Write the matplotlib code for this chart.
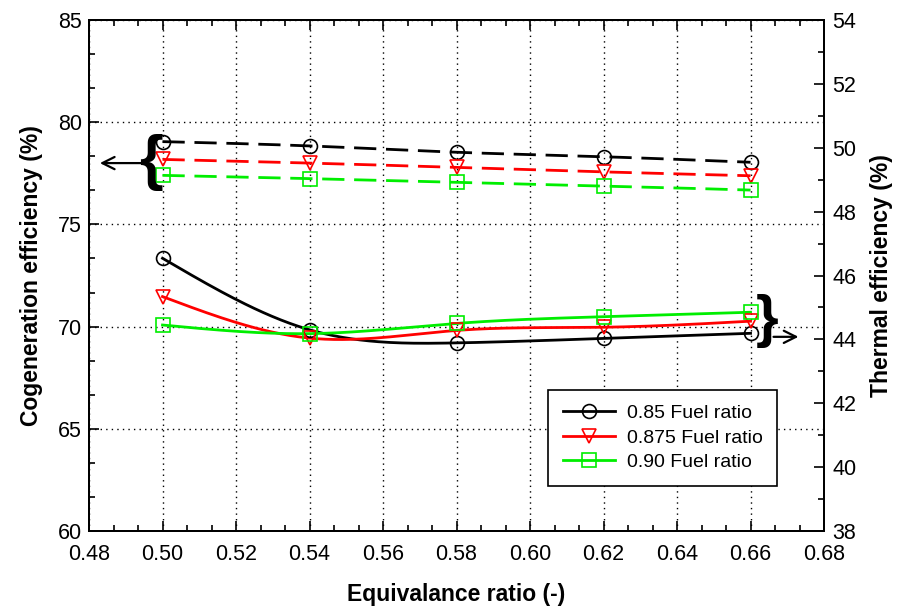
import numpy as np
import matplotlib
matplotlib.use("Agg")
import matplotlib.pyplot as plt
from matplotlib.ticker import MultipleLocator, FormatStrFormatter
from matplotlib.lines import Line2D

plt.rcParams['font.family'] = ['Liberation Sans', 'DejaVu Sans']

# Equivalence ratio values
phi = [0.50, 0.54, 0.58, 0.62, 0.66]

# Cogeneration efficiency (%) - left axis
cogen_085 = [79.05, 78.84, 78.53, 78.31, 78.04]
cogen_0875 = [78.18, 78.00, 77.79, 77.57, 77.38]
cogen_090 = [77.40, 77.24, 77.06, 76.88, 76.68]

# Thermal efficiency (%) - right axis
thermal_085 = [46.54, 44.30, 43.89, 44.03, 44.19]
thermal_0875 = [45.34, 44.04, 44.28, 44.38, 44.57]
thermal_090 = [44.45, 44.18, 44.50, 44.71, 44.85]

labels = ['0.85 Fuel ratio', '0.875 Fuel ratio', '0.90 Fuel ratio']
colors = ['black', '#ff0000', '#00ee00']
markers = ['o', 'v', 's']


def natural_spline(x, y, n=200):
    """Natural cubic spline through (x, y) sampled on n points."""
    x = np.asarray(x, float)
    y = np.asarray(y, float)
    m = len(x)
    h = np.diff(x)
    A = np.zeros((m, m))
    b = np.zeros(m)
    A[0, 0] = A[-1, -1] = 1.0
    for i in range(1, m - 1):
        A[i, i - 1] = h[i - 1]
        A[i, i] = 2 * (h[i - 1] + h[i])
        A[i, i + 1] = h[i]
        b[i] = 6 * ((y[i + 1] - y[i]) / h[i] - (y[i] - y[i - 1]) / h[i - 1])
    M = np.linalg.solve(A, b)
    xs = np.linspace(x[0], x[-1], n)
    idx = np.clip(np.searchsorted(x, xs) - 1, 0, m - 2)
    x0, x1 = x[idx], x[idx + 1]
    hh = x1 - x0
    a = (x1 - xs) / hh
    c = (xs - x0) / hh
    ys = (a * y[idx] + c * y[idx + 1]
          + ((a ** 3 - a) * M[idx] + (c ** 3 - c) * M[idx + 1]) * hh ** 2 / 6)
    return xs, ys


fig = plt.figure(figsize=(9, 6.1), dpi=100)
ax = fig.add_axes([0.0989, 0.1295, 0.8167, 0.8377])
ax2 = ax.twinx()

cogen = [cogen_085, cogen_0875, cogen_090]
thermal = [thermal_085, thermal_0875, thermal_090]

for yv, col, mk in zip(cogen, colors, markers):
    xs, ys = natural_spline(phi, yv)
    ax.plot(xs, ys, color=col, lw=2.0, dashes=(8, 3.5), zorder=3)
    ax.plot(phi, yv, ls='none', marker=mk, ms=10, mfc='none', mec=col,
            mew=1.2, zorder=4)

for yv, col, mk in zip(thermal, colors, markers):
    xs, ys = natural_spline(phi, yv)
    ax2.plot(xs, ys, color=col, lw=2.0, zorder=3)
    ax2.plot(phi, yv, ls='none', marker=mk, ms=10, mfc='none', mec=col,
             mew=1.2, zorder=4)

ax.set_xlim(0.48, 0.68)
ax.set_ylim(60, 85)
ax2.set_ylim(38, 54)

ax.xaxis.set_major_locator(MultipleLocator(0.02))
ax.xaxis.set_minor_locator(MultipleLocator(0.02 / 3))
ax.xaxis.set_major_formatter(FormatStrFormatter('%.2f'))
ax.yaxis.set_major_locator(MultipleLocator(5))
ax.yaxis.set_minor_locator(MultipleLocator(5 / 3))
ax2.yaxis.set_major_locator(MultipleLocator(2))
ax2.yaxis.set_minor_locator(MultipleLocator(1))

ax.tick_params(which='both', direction='in', top=True, right=False,
               width=1.2)
ax.tick_params(which='major', length=7, labelsize=15.5)
ax.tick_params(axis='x', which='major', pad=9)
ax.tick_params(axis='y', which='major', pad=5)
ax.tick_params(which='minor', length=4)
ax2.tick_params(which='both', direction='in', width=1.2)
ax2.tick_params(which='major', length=7, labelsize=15.5, pad=6)
ax2.tick_params(which='minor', length=4)

for a in (ax, ax2):
    for sp in a.spines.values():
        sp.set_linewidth(1.4)

ax.grid(True, which='major', color='black', lw=1.0, ls=(0, (1, 3)))

ax.set_xlabel('Equivalance ratio (-)', fontsize=16.5, fontweight='bold',
              labelpad=13)
ax.set_ylabel('Cogeneration efficiency (%)', fontsize=16.5,
              fontweight='bold', labelpad=11)
ax2.set_ylabel('Thermal efficiency (%)', fontsize=16.5, fontweight='bold',
               labelpad=10)

# Braces and arrows grouping the curve sets with their axes
ax.text(0.4968, 78.05, '{', fontsize=44, ha='center', va='center',
        fontweight='bold', zorder=5)
ax.annotate('', xy=(0.4822, 78.0), xytext=(0.4958, 78.0),
            arrowprops=dict(arrowstyle='->', lw=1.6, color='black',
                            mutation_scale=22), zorder=5)
ax.text(0.6645, 70.25, '}', fontsize=42, ha='center', va='center',
        fontweight='bold', zorder=5)
ax.annotate('', xy=(0.6738, 69.5), xytext=(0.6655, 69.5),
            arrowprops=dict(arrowstyle='->', lw=1.6, color='black',
                            mutation_scale=22), zorder=5)

handles = [Line2D([], [], color=c, lw=2.0, marker=m, ms=10, mfc='none',
                  mec=c, mew=1.2) for c, m in zip(colors, markers)]
leg = ax2.legend(handles, labels, loc='upper left',
                 bbox_to_anchor=(0.6245, 0.276), fontsize=14,
                 frameon=True, fancybox=False, edgecolor='black',
                 framealpha=1, handlelength=2.7, borderpad=0.75,
                 labelspacing=0.35, handletextpad=0.6, borderaxespad=0)
leg.get_frame().set_linewidth(1.2)

fig.savefig('out.png', dpi=100)
